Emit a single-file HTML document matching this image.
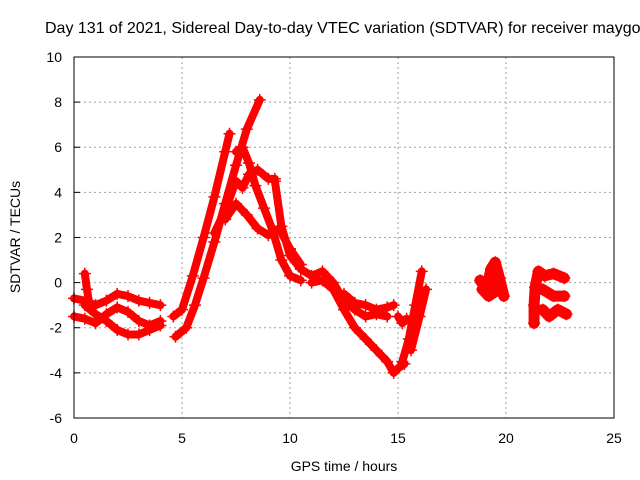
<!DOCTYPE html>
<html><head><meta charset="utf-8"><style>
body{margin:0;background:#fff;overflow:hidden;}
svg{display:block;font-family:"Liberation Sans",sans-serif;}
</style></head><body>
<svg id="chart" width="640" height="480">
<text x="45" y="33" font-size="16" fill="#000">Day 131 of 2021, Sidereal Day-to-day VTEC variation (SDTVAR) for receiver maygo</text>
<g id="grid"></g><g id="ticks"></g><g id="marks"></g>
<rect x="74" y="57" width="540" height="361" fill="none" stroke="#000" stroke-width="1"/>
<text x="344" y="471" font-size="14" text-anchor="middle">GPS time / hours</text>
<text transform="translate(20,237) rotate(-90)" font-size="14" text-anchor="middle">SDTVAR / TECUs</text>
</svg>
<script>
const xTicks=[0,5,10,15,20,25];
const yTicks=[-6,-4,-2,0,2,4,6,8,10];
const trackA=[[0,-0.7],[0.5,-0.8],[1,-1.0],[1.5,-0.8],[2,-0.5],[2.5,-0.6],[3,-0.8],[3.5,-0.9],[4,-1.0]];
const trackB=[[0.5,-1.0],[1,-1.4],[1.5,-1.7],[2,-2.1],[2.5,-2.3],[3,-2.3],[3.5,-2.1],[4,-1.9]];
const trackC=[[0,-1.5],[0.5,-1.6],[1,-1.8],[1.5,-1.4],[2,-1.1],[2.5,-1.3],[3,-1.7],[3.5,-1.9],[4,-1.7]];
const spike=[[0.5,0.4],[0.6,-0.3],[0.7,-0.9]];
const trackD=[[4.6,-1.5],[5.0,-1.2],[5.5,0.3],[6.0,2.0],[6.5,3.8],[7.0,5.8],[7.2,6.6]];
const trackE=[[4.7,-2.4],[5.2,-2.0],[5.6,-1.0],[6.0,0.2],[6.5,1.8],[7.0,3.5],[7.5,5.2],[8.0,6.8],[8.6,8.1]];
const trackF=[[6.5,2.2],[7.0,3.2],[7.5,4.5],[7.8,4.2],[8.1,4.8],[8.5,5.0],[9.0,4.6],[9.3,4.6]];
const trackG=[[7.0,2.8],[7.5,3.5],[8.0,3.0],[8.5,2.4],[9.0,2.1],[9.5,2.4],[10.0,1.5],[10.5,0.8]];
const trackH=[[7.5,5.8],[7.8,6.0],[8.1,5.3],[8.4,4.3],[8.8,3.3],[9.2,2.3],[9.6,1.0],[10.0,0.3],[10.5,0.1]];
const trackI=[[9.3,4.5],[9.6,2.5],[10,1.2],[10.5,0.6],[11,0.3],[11.5,0.5],[12,0.0],[12.5,-0.8],[13,-1.2],[13.5,-1.5],[14,-1.4],[14.5,-1.5]];
const trackJ=[[11,0.0],[11.5,0.1],[12,-0.3],[12.5,-1.2],[13,-2.0],[13.5,-2.5],[14,-3.0],[14.5,-3.5],[14.8,-4.0],[15,-3.8],[15.3,-3.6]];
const trackK=[[12.5,-0.5],[13,-0.9],[13.5,-1.0],[14,-1.2],[14.5,-1.1],[14.8,-1.0]];
const trackL=[[15.2,-3.5],[15.5,-2.5],[15.8,-1.0],[16.1,0.5]];
const trackM=[[15.6,-3.0],[16,-1.5],[16.3,-0.3]];
const trackN=[[15,-1.5],[15.2,-1.8],[15.4,-1.6]];
const trackO=[[18.8,0.1],[19.1,-0.3],[19.3,0.6],[19.5,0.9],[19.7,0.2],[19.9,-0.6]];
const trackP=[[18.9,-0.3],[19.2,-0.6],[19.5,-0.4],[19.8,-0.3],[19.4,0.2]];
const trackQ=[[21.3,-1.8],[21.3,-1.0],[21.35,-0.2],[21.5,0.5],[21.8,0.3],[22.2,0.4],[22.7,0.2]];
const trackR=[[21.5,-0.3],[21.7,-0.3],[22.2,-0.6],[22.7,-0.6]];
const trackS=[[21.7,-1.2],[22.0,-1.5],[22.4,-1.2],[22.8,-1.4]];
const tracks=[trackA,trackB,trackC,spike,trackD,trackE,trackF,trackG,trackH,trackI,trackJ,trackK,trackL,trackM,trackN,trackO,trackP,trackQ,trackR,trackS];
const NS="http://www.w3.org/2000/svg";
const X=t=>74+t*21.6, Y=v=>282.6-v*22.5625;
const grid=document.getElementById('grid'),ticks=document.getElementById('ticks'),marks=document.getElementById('marks');
function mk(tag,attrs,parent){const e=document.createElementNS(NS,tag);for(const k in attrs)e.setAttribute(k,attrs[k]);parent.appendChild(e);return e;}
xTicks.forEach(t=>{
 if(t>0&&t<25){const g=mk('line',{x1:X(t),x2:X(t),y1:57,y2:418,stroke:'#a0a0a0','stroke-dasharray':'2,3'},grid);
 
 }
 const l=mk('text',{x:X(t),y:443,'font-size':14,'text-anchor':'middle'},ticks);l.textContent=t;
 
 
});
yTicks.forEach(v=>{
 if(v>-6&&v<10){const g=mk('line',{x1:74,x2:614,y1:Y(v),y2:Y(v),stroke:'#a0a0a0','stroke-dasharray':'2,3'},grid);
 
 
 mk('line',{x1:74,x2:80,y1:Y(v),y2:Y(v),stroke:'#000'},ticks);}
 const l=mk('text',{x:62,y:Y(v)+5,'font-size':14,'text-anchor':'end'},ticks);l.textContent=v;
 
 
});
tracks.forEach(tr=>{
 const blob=tr[0][0]>18;
 const pl=mk('polyline',{points:tr.map(p=>X(p[0])+','+Y(p[1])).join(' '),fill:'none',stroke:'#f00','stroke-width':blob?11:8,'stroke-linejoin':'round','stroke-linecap':'round'},marks);
 
 
 tr.forEach(p=>{const x=X(p[0]),y=Y(p[1]);
  const m=mk('path',{d:`M${x-6},${y}H${x+6}M${x},${y-6}V${y+6}`,stroke:'#f00','stroke-width':1.5},marks);
  
  
 });
});
</script>
</body></html>
